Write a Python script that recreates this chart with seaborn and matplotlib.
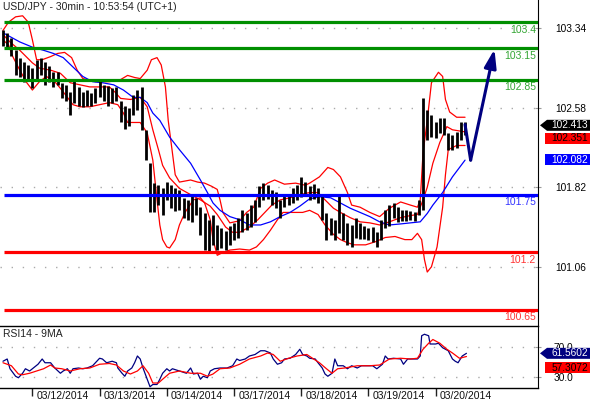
import numpy as np
import matplotlib
matplotlib.use('Agg')
import matplotlib.pyplot as plt
from matplotlib.patches import Polygon
import seaborn as sns

# ---- data (x = 30min bar number from the first bar) ----
title = 'USD/JPY - 30min - 10:53:54 (UTC+1)'
day_labels = ['03/12/2014', '03/13/2014', '03/14/2014', '03/17/2014',
              '03/18/2014', '03/19/2014', '03/20/2014']
day_start = [21, 69, 117, 165, 213, 261, 309]

bar_idx = np.arange(0, 331, 3)
bar_hi = [103.32, 103.30, 103.25, 103.13, 103.06, 103.02, 102.99, 102.96, 103.04, 103.06,
          103.02, 102.98, 102.92, 102.92, 102.82, 102.80, 102.73, 102.85, 102.78, 102.73,
          102.75, 102.72, 102.77, 102.85, 102.80, 102.79, 102.77, 102.78, 102.65, 102.60,
          102.58, 102.70, 102.75, 102.78, 102.37, 102.05, 101.86, 101.84, 101.81, 101.87,
          101.84, 101.81, 101.79, 101.72, 101.70, 101.76, 101.72, 101.63, 101.57, 101.51,
          101.56, 101.46, 101.43, 101.40, 101.45, 101.48, 101.53, 101.60, 101.57, 101.65,
          101.70, 101.83, 101.86, 101.84, 101.79, 101.78, 101.70, 101.74, 101.76, 101.81,
          101.84, 101.92, 101.87, 101.83, 101.85, 101.81, 101.76, 101.57, 101.53, 101.51,
          101.76, 101.57, 101.48, 101.46, 101.53, 101.48, 101.45, 101.43, 101.44, 101.39,
          101.51, 101.60, 101.65, 101.67, 101.63, 101.60, 101.60, 101.59, 101.58, 101.70,
          102.67, 102.56, 102.51, 102.44, 102.48, 102.48, 102.34, 102.32, 102.35, 102.44,
          102.44]
bar_lo = [103.17, 103.15, 103.08, 102.89, 102.87, 102.83, 102.85, 102.77, 102.85, 102.89,
          102.80, 102.83, 102.78, 102.80, 102.67, 102.65, 102.51, 102.63, 102.60, 102.59,
          102.60, 102.60, 102.63, 102.68, 102.65, 102.60, 102.63, 102.65, 102.44, 102.38,
          102.41, 102.51, 102.56, 102.37, 102.08, 101.58, 101.58, 101.65, 101.56, 101.70,
          101.62, 101.59, 101.60, 101.53, 101.51, 101.49, 101.56, 101.36, 101.22, 101.19,
          101.27, 101.22, 101.24, 101.22, 101.27, 101.32, 101.34, 101.39, 101.41, 101.44,
          101.49, 101.63, 101.70, 101.71, 101.65, 101.62, 101.53, 101.63, 101.65, 101.67,
          101.70, 101.73, 101.75, 101.70, 101.71, 101.67, 101.51, 101.32, 101.36, 101.32,
          101.38, 101.32, 101.27, 101.25, 101.34, 101.33, 101.33, 101.32, 101.30, 101.25,
          101.32, 101.43, 101.45, 101.53, 101.49, 101.50, 101.50, 101.51, 101.50, 101.56,
          101.60, 102.27, 102.30, 102.29, 102.34, 102.32, 102.18, 102.18, 102.20, 102.27,
          102.32]

bb_up_i = [0, 4, 9, 14, 18, 21, 24, 28, 34, 39, 44, 49, 53, 57, 66, 76, 84, 89, 94, 98,
           103, 106, 110, 113, 116, 118, 121, 123, 126, 134, 139, 144, 149, 153, 155, 157,
           162, 169, 174, 179, 184, 189, 194, 201, 209, 216, 219, 226, 232, 236, 241, 246,
           249, 255, 262, 269, 276, 284, 291, 296, 298, 300, 303, 306, 311, 314, 316, 319,
           324, 330]
bb_up_p = [103.32, 103.40, 103.45, 103.46, 103.40, 103.23, 103.04, 103.04, 103.07, 103.10,
           103.11, 103.06, 102.94, 102.86, 102.83, 102.83, 102.85, 102.89, 102.87, 102.86,
           102.94, 103.04, 103.06, 102.99, 102.78, 102.46, 102.15, 101.94, 101.87, 101.89,
           101.87, 101.86, 101.83, 101.80, 101.70, 101.58, 101.48, 101.50, 101.58, 101.63,
           101.81, 101.86, 101.89, 101.85, 101.86, 101.84, 101.86, 101.92, 102.01, 101.99,
           101.92, 101.77, 101.65, 101.63, 101.58, 101.54, 101.62, 101.68, 101.65, 101.63,
           101.70, 102.15, 102.46, 102.82, 102.92, 102.88, 102.66, 102.54, 102.49, 102.49]

bb_mid_i = [0, 5, 12, 21, 26, 34, 41, 48, 55, 62, 69, 76, 80, 84, 91, 98, 103, 107, 111,
            114, 119, 126, 134, 141, 148, 153, 159, 164, 169, 176, 182, 187, 192, 198, 205,
            212, 219, 225, 230, 236, 241, 248, 255, 262, 269, 276, 284, 291, 296, 300, 303,
            307, 312, 317, 321, 330]
bb_mid_p = [103.28, 103.21, 103.13, 103.01, 102.96, 102.94, 102.91, 102.82, 102.80, 102.78,
            102.78, 102.78, 102.73, 102.67, 102.66, 102.68, 102.59, 102.37, 102.18, 102.03,
            101.91, 101.81, 101.75, 101.70, 101.64, 101.56, 101.44, 101.39, 101.39, 101.44,
            101.51, 101.58, 101.65, 101.70, 101.72, 101.75, 101.77, 101.77, 101.70, 101.62,
            101.58, 101.53, 101.49, 101.48, 101.46, 101.49, 101.53, 101.55, 101.56, 101.70,
            101.82, 102.05, 102.25, 102.40, 102.37, 102.35]

bb_lo_i = [0, 4, 7, 12, 17, 21, 26, 31, 37, 42, 46, 50, 55, 62, 69, 76, 82, 86, 89, 98,
           103, 107, 110, 112, 114, 117, 119, 123, 126, 130, 136, 141, 144, 148, 150, 153,
           156, 162, 169, 176, 181, 186, 191, 196, 200, 207, 214, 219, 225, 230, 236, 241,
           246, 251, 259, 266, 273, 280, 287, 292, 296, 299, 301, 303, 306, 310, 314, 316,
           318, 324, 330]
bb_lo_p = [103.23, 103.18, 103.07, 102.94, 102.82, 102.75, 102.83, 102.88, 102.83, 102.75,
           102.68, 102.61, 102.59, 102.59, 102.61, 102.63, 102.61, 102.53, 102.44, 102.44,
           102.34, 102.08, 101.70, 101.46, 101.32, 101.25, 101.24, 101.32, 101.46, 101.58,
           101.70, 101.72, 101.67, 101.51, 101.32, 101.17, 101.19, 101.22, 101.23, 101.22,
           101.25, 101.32, 101.41, 101.51, 101.58, 101.58, 101.58, 101.60, 101.56, 101.46,
           101.37, 101.32, 101.29, 101.27, 101.27, 101.30, 101.34, 101.35, 101.32, 101.32,
           101.38, 101.32, 101.13, 101.01, 101.06, 101.25, 101.63, 101.94, 102.18, 102.22,
           102.22]

ma_i = [1, 12, 21, 29, 36, 43, 50, 57, 64, 71, 79, 86, 93, 98, 103, 107, 112, 119, 126,
        134, 141, 146, 150, 155, 162, 169, 176, 184, 191, 198, 205, 212, 219, 226, 234,
        241, 248, 255, 262, 269, 276, 284, 291, 298, 303, 307, 314, 321, 330]
ma_p = [103.29, 103.21, 103.16, 103.13, 103.10, 103.06, 102.97, 102.88, 102.83, 102.82,
        102.80, 102.75, 102.68, 102.68, 102.63, 102.53, 102.46, 102.30, 102.18, 102.05,
        101.89, 101.77, 101.67, 101.60, 101.54, 101.51, 101.46, 101.46, 101.49, 101.54,
        101.58, 101.64, 101.71, 101.73, 101.72, 101.67, 101.62, 101.58, 101.54, 101.49,
        101.46, 101.47, 101.48, 101.49, 101.57, 101.65, 101.77, 101.92, 102.08]

levels = [103.4, 103.15, 102.85, 101.75, 101.2, 100.65]
level_colors = ['#008f00', '#008f00', '#008f00', '#0000ff', '#ff0000', '#ff0000']
price_ticks = [103.34, 102.58, 101.82, 101.06]

forecast_i = [330, 334, 351]
forecast_p = [102.42, 102.08, 103.14]

last_close, last_mid, last_ma = 102.413, 102.351, 102.082

rsi_i = [0, 3, 5, 9, 11, 14, 16, 19, 21, 25, 28, 30, 34, 37, 41, 43, 46, 48, 50, 54, 57,
         60, 64, 66, 69, 71, 74, 78, 81, 82, 85, 87, 89, 92, 94, 96, 98, 100, 103, 105, 107,
         110, 112, 114, 117, 119, 121, 126, 131, 134, 136, 139, 141, 143, 146, 148, 151,
         155, 160, 164, 167, 169, 173, 176, 180, 184, 187, 191, 193, 196, 199, 201, 205,
         209, 212, 214, 217, 219, 223, 225, 228, 230, 232, 235, 237, 239, 243, 246, 249,
         253, 256, 260, 264, 267, 271, 273, 275, 279, 284, 286, 289, 292, 296, 298, 299,
         301, 304, 305, 309, 311, 314, 316, 318, 321, 323, 325, 328, 331]
rsi_v = [51, 54, 41, 31, 29, 35, 41, 38, 41, 47, 54, 49, 49, 42, 35, 38, 41, 35, 41, 42, 41,
         42, 45, 49, 55, 54, 49, 51, 49, 42, 35, 31, 38, 42, 49, 58, 54, 42, 27, 17, 20,
         20, 27, 35, 41, 38, 41, 38, 35, 42, 34, 35, 27, 31, 29, 38, 41,
         42, 42, 45, 54, 52, 54, 58, 60, 65, 65, 62, 54, 47, 49, 54, 55,
         60, 67, 60, 58, 55, 54, 49, 42, 34, 31, 35, 54, 45, 45, 41, 45,
         42, 45, 45, 45, 41, 47, 58, 54, 55, 54, 47, 54, 54, 54, 58, 85,
         87, 85, 74, 74, 75, 69, 67, 65, 54, 51, 49, 58, 61.56]
rsi_ma_i = [0, 6, 11, 14, 19, 24, 29, 34, 37, 42, 48, 55, 62, 69, 76, 81, 86, 91, 96, 100,
            104, 107, 111, 114, 119, 126, 134, 141, 146, 150, 155, 162, 169, 176, 184, 189,
            193, 198, 204, 210, 217, 221, 226, 231, 235, 239, 244, 253, 262, 269, 276, 284,
            291, 296, 300, 304, 307, 312, 317, 321, 326, 331]
rsi_ma_v = [49, 45, 34, 33, 35, 38, 41, 46, 42, 41, 38, 41, 42, 47, 48, 46, 38, 34, 38, 45,
            35, 22, 22, 27, 35, 38, 35, 35, 31, 34, 41, 42, 47, 54, 58, 62,
            60, 51, 55, 58, 60, 55, 49, 41, 35, 41, 42, 45, 45, 46, 54, 55,
            54, 55, 67, 75, 80, 75, 67, 62, 55, 57.31]
rsi_ticks = [70, 30]

# ---- figure ----
sns.set_style('white')
plt.rcParams['font.family'] = ['Liberation Sans', 'DejaVu Sans']

W, H = 590, 400
fig = plt.figure(figsize=(W / 100, H / 100), dpi=100)
fig.patch.set_facecolor('white')
ax = fig.add_axes([0, 74 / H, 538 / W, 326 / H])
ax2 = fig.add_axes([0, 12 / H, 538 / W, 62 / H], sharex=ax)

ax.set_xlim(-2.14, 382.1)
ax.set_ylim(100.494, 103.611)
ax2.set_ylim(15.33, 98)

dots = dict(color='#aaaaaa', lw=1, ls=(0, (1, 7)), zorder=0)
for v in price_ticks:
    ax.axhline(v, **dots)
for v in rsi_ticks:
    ax2.axhline(v, **dots)

kw = dict(estimator=None, sort=False, legend=False)
sns.lineplot(x=bb_up_i, y=bb_up_p, color='#ff0000', lw=0.9, ax=ax, **kw)
sns.lineplot(x=bb_mid_i, y=bb_mid_p, color='#ff0000', lw=0.9, ax=ax, **kw)
sns.lineplot(x=bb_lo_i, y=bb_lo_p, color='#ff0000', lw=0.9, ax=ax, **kw)
sns.lineplot(x=ma_i, y=ma_p, color='#0000ff', lw=0.9, ax=ax, **kw)
ax.vlines(bar_idx, bar_lo, bar_hi, color='black', lw=2.0, zorder=3)

ax.hlines(levels, 0.7, 382.1, colors=level_colors, lw=2.3, zorder=4)
for v, c in zip(levels, level_colors):
    ax.annotate(f'{v:g}', xy=(1, v), xycoords=('axes fraction', 'data'),
                xytext=(-1.5, -2), textcoords='offset points', ha='right', va='top',
                color=c, alpha=0.8, fontsize=7.5)

navy = '#000080'
ax.plot(forecast_i[:2], forecast_p[:2], color=navy, lw=2.2, zorder=5, solid_capstyle='round')
ax.annotate('', xy=(forecast_i[2], forecast_p[2]), xytext=(forecast_i[1], forecast_p[1]),
            arrowprops=dict(arrowstyle='-|>,head_length=1.1,head_width=0.36', color=navy,
                            lw=2.2, mutation_scale=10, shrinkA=0, shrinkB=0), zorder=5)

ax.text(3 / 538, 1 - 7 / 326, title, transform=ax.transAxes, fontsize=7.5,
        color='#222222', va='center', ha='left')

sns.lineplot(x=rsi_i, y=rsi_v, color=navy, lw=0.9, ax=ax2, **kw)
sns.lineplot(x=rsi_ma_i, y=rsi_ma_v, color='#ff0000', lw=0.9, ax=ax2, **kw)
ax2.text(3 / 538, 1 - 8 / 62, 'RSI14 - 9MA', transform=ax2.transAxes, fontsize=7.5,
         color='#222222', va='center', ha='left')

# axes decoration
for a in (ax, ax2):
    a.set_facecolor('white')
    a.spines['left'].set_visible(False)
    a.spines['right'].set_color('black')
    a.yaxis.tick_right()
    a.set_xlabel('')
    a.set_ylabel('')
for s in ('top', 'bottom'):
    ax.spines[s].set_visible(False)
    ax2.spines[s].set_color('black')
    ax2.spines[s].set_linewidth(1)

ax.set_yticks(price_ticks)
ax.set_yticklabels([f'{v:.2f}' for v in price_ticks])
ax.tick_params(axis='y', direction='inout', length=5, color='#999999', pad=10,
               labelsize=7.3, labelcolor='black')
ax.tick_params(axis='x', bottom=False, labelbottom=False)

ax2.set_yticks(rsi_ticks)
ax2.set_yticklabels([f'{v:.1f}' for v in rsi_ticks])
ax2.tick_params(axis='y', direction='inout', length=5, color='#999999', pad=9,
                labelsize=7.3, labelcolor='black')
ax2.set_xticks(day_start)
ax2.set_xticklabels([])
ax2.tick_params(axis='x', direction='out', length=6, width=1, color='#222222', bottom=True)
for d, lab in zip(day_start, day_labels):
    ax2.annotate(lab, xy=(d, 0), xycoords=('data', 'axes fraction'), xytext=(3, -6),
                 textcoords='offset points', ha='left', va='center', fontsize=7.5,
                 color='#111111', annotation_clip=False)

# value badges on the right scale
ov = fig.add_axes([0, 0, 1, 1], facecolor='none')
ov.set_xlim(0, W)
ov.set_ylim(0, H)
ov.axis('off')


def badge(axis, value, text, face, tcolor, shift=0, pointed=False):
    yc = axis.transData.transform((0, value))[1] - shift
    h = 5.5
    if pointed:
        pts = [(540, yc), (547, yc + h), (590, yc + h), (590, yc - h), (547, yc - h)]
    else:
        pts = [(545, yc + h), (590, yc + h), (590, yc - h), (545, yc - h)]
    ov.add_patch(Polygon(pts, closed=True, facecolor=face, edgecolor='none'))
    ov.text(588, yc, text, ha='right', va='center', fontsize=7.3, color=tcolor)


badge(ax, last_close, f'{last_close:.3f}', 'black', 'white', pointed=True)
badge(ax, last_mid, f'{last_mid:.3f}', '#ff0000', 'black', shift=6.7)
badge(ax, last_ma, f'{last_ma:.3f}', '#0000ff', 'white')
badge(ax2, rsi_v[-1], '61.5602', navy, 'white', pointed=True)
badge(ax2, rsi_ma_v[-1], '57.3072', '#ff0000', 'black', shift=11)

fig.savefig('out.png', dpi=100)
